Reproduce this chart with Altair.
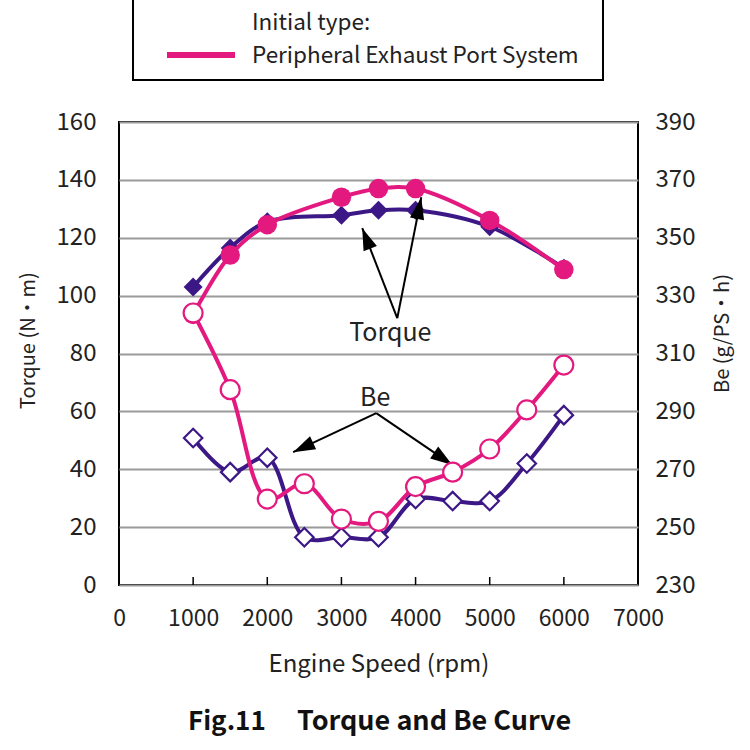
import math
import altair as alt
import pandas as pd

# ---------------- data ----------------
rpm_torque = [1000, 1500, 2000, 3000, 3500, 4000, 5000, 6000]
torque_new = [103, 116.5, 125.5, 127.8, 129.5, 129.5, 123.8, 109.5]     # purple, filled diamonds
torque_init = [93.5, 114, 124.5, 134, 137, 137, 126, 109]               # pink, filled circles

rpm_be = [1000, 1500, 2000, 2500, 3000, 3500, 4000, 4500, 5000, 5500, 6000]
be_new = [280.8, 269, 274, 246.5, 246.5, 246.5, 259.7, 259, 259, 272, 288.7]   # purple, open diamonds
be_init = [324, 297.5, 259.7, 265, 252.8, 252, 264, 269, 277, 290.5, 306]      # pink, open circles

x_ticks = [0, 1000, 2000, 3000, 4000, 5000, 6000, 7000]
torque_ticks = [0, 20, 40, 60, 80, 100, 120, 140, 160]
be_ticks = [230, 250, 270, 290, 310, 330, 350, 370, 390]

# annotation arrows (data coords on torque scale)
ann_labels = ["Torque", "Be"]
ann_label_x = [3659, 3456]
ann_label_y = [87, 64.6]
arrow_group = ["Torque", "Torque", "Be", "Be"]
arrow_x1 = [3753, 3753, 3470, 3470]
arrow_y1 = [92.2, 92.2, 59.4, 59.4]
arrow_x2 = [3281, 4077, 2349, 4496]
arrow_y2 = [123.3, 134, 45.9, 41.5]

PINK = "#E3197F"
PURPLE = "#3C1786"
FONT = "Noto Sans CJK JP"
TXT = "#222222"
W, H = 519, 463

# ---------------- frames ----------------
df_tn = pd.DataFrame({"rpm": rpm_torque, "v": torque_new})
df_ti = pd.DataFrame({"rpm": rpm_torque, "v": torque_init})
df_bn = pd.DataFrame({"rpm": rpm_be, "v": be_new})
df_bi = pd.DataFrame({"rpm": rpm_be, "v": be_init})

angles = []
for x1, y1, x2, y2 in zip(arrow_x1, arrow_y1, arrow_x2, arrow_y2):
    dx = (x2 - x1) * W / 7000
    dy = -(y2 - y1) * H / 160
    angles.append(math.degrees(math.atan2(dx, -dy)) % 360)
df_arrows = pd.DataFrame({"g": arrow_group, "x1": arrow_x1, "y1": arrow_y1,
                          "x2": arrow_x2, "y2": arrow_y2, "angle": angles})
df_lbl = pd.DataFrame({"t": ann_labels, "x": ann_label_x, "y": ann_label_y})
df_xt = pd.DataFrame({"x": x_ticks[1:-1]})
one = pd.DataFrame({"a": [0]})

xs = alt.Scale(domain=[0, 7000], nice=False)
ts = alt.Scale(domain=[0, 160], nice=False)
bs = alt.Scale(domain=[230, 390], nice=False)

x_axis = alt.Axis(values=x_ticks, format="d", labelOverlap=False, labelFlush=False,
                  title="Engine Speed (rpm)",
                  grid=False, ticks=False, tickSize=0, labelPadding=22, titlePadding=22,
                  domain=False, labelFontSize=23, titleFontSize=24, labelFont=FONT,
                  titleFont=FONT, labelColor=TXT, titleColor=TXT, titleFontWeight="normal")
t_axis = alt.Axis(values=torque_ticks, labelOverlap=False, labelFlush=False, title="Torque (N・m)",
                  grid=True, gridColor="#9a9a9a", gridWidth=2, ticks=False, tickSize=0,
                  domain=False, labelPadding=23, titleX=-91, titleY=218, titleBaseline="middle",
                  labelFontSize=24, titleFontSize=20, labelFont=FONT,
                  titleFont=FONT, labelColor=TXT, titleColor=TXT, titleFontWeight="normal")
b_axis = alt.Axis(values=be_ticks, labelOverlap=False, labelFlush=False, title="Be (g/PS・h)",
                  orient="right", grid=False, ticks=False, tickSize=0, domain=False,
                  labelPadding=17, titleAngle=270, titleX=84, titleY=211, titleBaseline="middle",
                  labelFontSize=24, titleFontSize=20, labelFont=FONT, titleFont=FONT,
                  labelColor=TXT, titleColor=TXT, titleFontWeight="normal")

X = alt.X("rpm:Q", scale=xs, axis=x_axis)

# ---------------- torque layer ----------------
tn_line = alt.Chart(df_tn).mark_line(color=PURPLE, strokeWidth=4, interpolate="catmull-rom").encode(
    x=X, y=alt.Y("v:Q", scale=ts, axis=t_axis))
tn_pts = alt.Chart(df_tn).mark_point(shape="diamond", filled=True, color=PURPLE, size=360, opacity=1).encode(
    x=alt.X("rpm:Q", scale=xs), y=alt.Y("v:Q", scale=ts))
ti_line = alt.Chart(df_ti).mark_line(color=PINK, strokeWidth=4, interpolate="catmull-rom").encode(
    x=alt.X("rpm:Q", scale=xs), y=alt.Y("v:Q", scale=ts))
ti_pts = alt.Chart(df_ti).mark_point(shape="circle", filled=True, color=PINK, size=380, opacity=1).encode(
    x=alt.X("rpm:Q", scale=xs), y=alt.Y("v:Q", scale=ts))

xticks = alt.Chart(df_xt).mark_rule(color="black", strokeWidth=1.5).encode(
    x=alt.X("x:Q", scale=xs), y=alt.value(H), y2=alt.value(H - 8))

arrow_lines = alt.Chart(df_arrows).mark_rule(color="black", strokeWidth=2).encode(
    x=alt.X("x1:Q", scale=xs), y=alt.Y("y1:Q", scale=ts), x2="x2:Q", y2="y2:Q")
arrow_heads = alt.Chart(df_arrows).mark_point(
    shape="M0,0 L-0.65,2 L0.65,2 Z", filled=True, color="black", size=484, opacity=1).encode(
    x=alt.X("x2:Q", scale=xs), y=alt.Y("y2:Q", scale=ts), angle=alt.Angle("angle:Q", scale=None))
ann_text = alt.Chart(df_lbl).mark_text(font=FONT, fontSize=25, color=TXT).encode(
    x=alt.X("x:Q", scale=xs), y=alt.Y("y:Q", scale=ts), text="t:N")

legend_box = alt.Chart(one).mark_rect(fill="white", stroke="black", strokeWidth=2).encode(
    x=alt.value(14), x2=alt.value(484), y=alt.value(-150), y2=alt.value(-42))
legend_line = alt.Chart(one).mark_rule(color=PINK, strokeWidth=6).encode(
    x=alt.value(48), x2=alt.value(116), y=alt.value(-67))
legend_t1 = alt.Chart(one).mark_text(font=FONT, fontSize=22.5, color=TXT, align="left").encode(
    x=alt.value(133), y=alt.value(-99), text=alt.value("Initial type:"))
legend_t2 = alt.Chart(one).mark_text(font=FONT, fontSize=22.5, color=TXT, align="left").encode(
    x=alt.value(133), y=alt.value(-66), text=alt.value("Peripheral Exhaust Port System"))
caption1 = alt.Chart(one).mark_text(font=FONT, fontSize=26, fontWeight="bold", color="#111",
                                    align="left").encode(
    x=alt.value(69), y=alt.value(600), text=alt.value("Fig.11"))
caption2 = alt.Chart(one).mark_text(font=FONT, fontSize=27, fontWeight="bold", color="#111",
                                    align="left").encode(
    x=alt.value(178), y=alt.value(600), text=alt.value("Torque and Be Curve"))

torque_layer = alt.layer(tn_line, tn_pts, ti_line, ti_pts, xticks, arrow_lines, arrow_heads,
                         ann_text, legend_box, legend_line, legend_t1, legend_t2,
                         caption1, caption2)

# ---------------- Be layer ----------------
bn_line = alt.Chart(df_bn).mark_line(color=PURPLE, strokeWidth=4, interpolate="catmull-rom").encode(
    x=alt.X("rpm:Q", scale=xs), y=alt.Y("v:Q", scale=bs, axis=b_axis))
bn_pts = alt.Chart(df_bn).mark_point(shape="diamond", filled=True, fill="white", stroke=PURPLE,
                                      strokeWidth=2.2, size=340, opacity=1).encode(
    x=alt.X("rpm:Q", scale=xs), y=alt.Y("v:Q", scale=bs))
bi_line = alt.Chart(df_bi).mark_line(color=PINK, strokeWidth=4, interpolate="catmull-rom").encode(
    x=alt.X("rpm:Q", scale=xs), y=alt.Y("v:Q", scale=bs))
bi_pts = alt.Chart(df_bi).mark_point(shape="circle", filled=True, fill="white", stroke=PINK,
                                      strokeWidth=2.2, size=360, opacity=1).encode(
    x=alt.X("rpm:Q", scale=xs), y=alt.Y("v:Q", scale=bs))

be_layer = alt.layer(bn_line, bn_pts, bi_line, bi_pts)

chart = alt.layer(torque_layer, be_layer).resolve_scale(y="independent").properties(
    width=W, height=H,
    autosize=alt.AutoSizeParams(type="none"),
    padding={"left": 119, "top": 122, "right": 112, "bottom": 165},
    background="white",
).configure_view(stroke="black", strokeWidth=2)

chart.save("out.html", embed_options={"renderer": "svg", "actions": False})
